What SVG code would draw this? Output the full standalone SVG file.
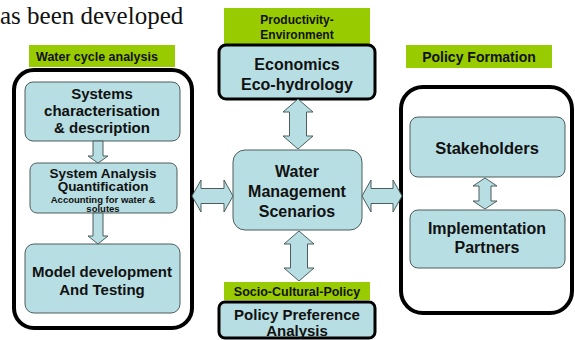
<svg xmlns="http://www.w3.org/2000/svg" width="575" height="340" viewBox="0 0 575 340">
<style>
.lbl{fill:#99cc00}
.lt{font-family:"Liberation Sans",Arial,sans-serif;font-weight:bold;fill:#111;text-anchor:middle}
.box{fill:#b7dee3;stroke:#4d5d5d;stroke-width:1}
.thick{fill:#b7dee3;stroke:#000;stroke-width:3}
.frame{fill:#fff;stroke:#000;stroke-width:4}
.t{font-family:"Liberation Sans",Arial,sans-serif;font-weight:bold;fill:#111;text-anchor:middle}
.arr{fill:#b7dee3;stroke:#4d5d5d;stroke-width:1;stroke-linejoin:miter}
</style>
<rect width="575" height="340" fill="#fff"/>
<text x="0" y="24" font-family="'Liberation Serif','Times New Roman',serif" font-size="25" fill="#111">as been developed</text>

<g id="water-cycle-analysis">
<rect class="lbl" x="29" y="45" width="146" height="22"/>
<text class="lt" x="97" y="61" font-size="12.5">Water cycle analysis</text>
<rect class="frame" x="14" y="70" width="178" height="258" rx="20"/>
</g>
<g id="systems-characterisation">
<rect class="box" x="25" y="82" width="155" height="59" rx="8"/>
<text class="t" font-size="15"><tspan x="102" y="99">Systems</tspan><tspan x="102" y="116">characterisation</tspan><tspan x="102" y="133">&amp; description</tspan></text>
</g>
<g id="system-analysis">
<rect class="box" x="30" y="163" width="147" height="50" rx="7"/>
<text class="t" font-size="13.5"><tspan x="103" y="178">System Analysis</tspan><tspan x="103" y="191">Quantification</tspan></text>
<text class="t" font-size="9.5"><tspan x="103" y="202.5">Accounting for water &amp;</tspan><tspan x="103" y="212">solutes</tspan></text>
</g>
<g id="model-development">
<rect class="box" x="25" y="244" width="155" height="69" rx="9"/>
<text class="t" font-size="15"><tspan x="102" y="277">Model development</tspan><tspan x="102" y="295">And Testing</tspan></text>
</g>

<g id="economics">
<rect class="lbl" x="224" y="8" width="146" height="36"/>
<text class="lt" font-size="12"><tspan x="297" y="24">Productivity-</tspan><tspan x="297" y="39">Environment</tspan></text>
<rect class="thick" x="219" y="45" width="156" height="54" rx="7"/>
<text class="t" font-size="16"><tspan x="297" y="70">Economics</tspan><tspan x="297" y="90">Eco-hydrology</tspan></text>
</g>

<g id="water-management">
<rect class="box" x="233" y="150" width="129" height="80" rx="12"/>
<text class="t" font-size="16"><tspan x="297" y="177">Water</tspan><tspan x="297" y="197">Management</tspan><tspan x="297" y="217">Scenarios</tspan></text>
</g>

<g id="policy-preference">
<rect class="lbl" x="224" y="282" width="146" height="18"/>
<text class="lt" x="297" y="296" font-size="12.5">Socio-Cultural-Policy</text>
<rect class="thick" x="219" y="302" width="156" height="36" rx="6"/>
<text class="t" font-size="15"><tspan x="297" y="320">Policy Preference</tspan><tspan x="297" y="336">Analysis</tspan></text>
</g>

<g id="policy-formation">
<rect class="lbl" x="406" y="45" width="146" height="23"/>
<text class="lt" x="479" y="62" font-size="14">Policy Formation</text>
<rect class="frame" x="401" y="87" width="171" height="226" rx="22"/>
</g>
<g id="stakeholders">
<rect class="box" x="410" y="117" width="155" height="60" rx="8"/>
<text class="t" x="487" y="154" font-size="16.5">Stakeholders</text>
</g>
<g id="implementation-partners">
<rect class="box" x="410" y="210" width="155" height="58" rx="8"/>
<text class="t" font-size="16"><tspan x="487" y="234">Implementation</tspan><tspan x="487" y="253">Partners</tspan></text>
</g>

<g id="connectors">
<path class="arr" d="M93,141 L103,141 L103,156 L108,156 L98,163 L88,156 L93,156 Z"/>
<path class="arr" d="M93,213 L103,213 L103,236 L108,236 L98,244 L88,236 L93,236 Z"/>
<path class="arr" d="M298,99 L313,112 L306.5,112 L306.5,136 L313,136 L298,149 L283,136 L289.5,136 L289.5,112 L283,112 Z"/>
<path class="arr" d="M299,231 L314,244 L307.5,244 L307.5,268 L314,268 L299,281 L284,268 L290.5,268 L290.5,244 L284,244 Z"/>
<path class="arr" d="M192,196 L201,180 L201,188.5 L224,188.5 L224,180 L233,196 L224,212 L224,203.5 L201,203.5 L201,212 Z"/>
<path class="arr" d="M362,196 L371,180 L371,188.5 L393,188.5 L393,180 L402,196 L393,212 L393,203.5 L371,203.5 L371,212 Z"/>
<path class="arr" d="M485,178 L497,186 L491,186 L491,201 L497,201 L485,209 L473,201 L479,201 L479,186 L473,186 Z"/>
</g>
</svg>
